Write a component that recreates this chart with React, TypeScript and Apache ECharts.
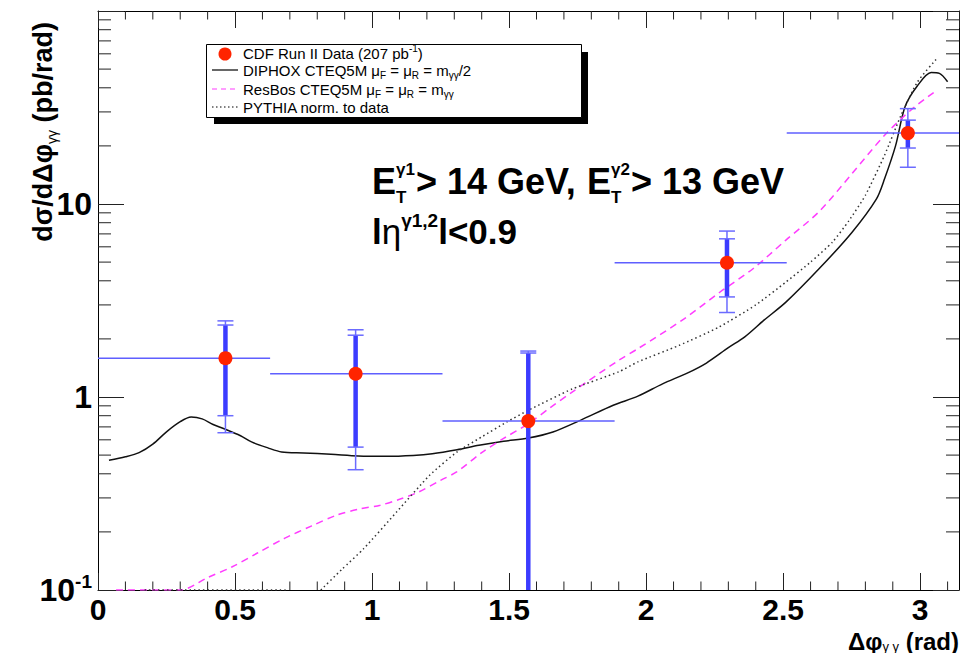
import React, { useEffect, useRef } from 'react';
import * as echarts from 'echarts';

// ---------------- data ----------------
const binEdges = [0, 0.628, 1.257, 1.885, 2.513, 3.1416];
const dataX = [0.465, 0.94, 1.57, 2.295, 2.955];
const dataY = [1.59, 1.32, 0.75, 4.96, 23.3];
const statLow = [0.8, 0.55, 0.05, 3.3, 19.5];
const statHigh = [2.36, 2.09, 1.69, 6.6, 27.2];
const totLow = [0.653, 0.42, 0.04, 2.74, 15.5];
const totHigh = [2.48, 2.23, 1.73, 7.24, 31.2];

const diphoxX = [0.04, 0.1, 0.15, 0.2, 0.25, 0.3, 0.34, 0.38, 0.42, 0.46, 0.52, 0.56, 0.62, 0.67, 0.75, 0.85, 0.95, 1.05, 1.15, 1.22, 1.31, 1.39, 1.48, 1.57, 1.66, 1.76, 1.88, 1.97, 2.06, 2.15, 2.22, 2.3, 2.36, 2.43, 2.51, 2.63, 2.75, 2.84, 2.87, 2.91, 2.945, 2.99, 3.04, 3.07, 3.1];
const diphoxY = [0.47, 0.49, 0.515, 0.57, 0.66, 0.745, 0.787, 0.77, 0.72, 0.685, 0.63, 0.585, 0.545, 0.519, 0.513, 0.505, 0.495, 0.493, 0.498, 0.508, 0.533, 0.562, 0.59, 0.613, 0.659, 0.757, 0.906, 1.01, 1.17, 1.33, 1.5, 1.8, 2.05, 2.5, 3.1, 4.6, 7.1, 10.6, 13.5, 20, 32, 41, 48, 47.5, 43];

const resbosX = [0.066, 0.3, 0.4, 0.49, 0.58, 0.68, 0.78, 0.87, 0.95, 1.03, 1.1, 1.17, 1.25, 1.31, 1.4, 1.48, 1.57, 1.65, 1.73, 1.9, 1.97, 2.14, 2.27, 2.39, 2.51, 2.63, 2.75, 2.87, 2.97, 3.06];
const resbosY = [0.1, 0.1, 0.116, 0.132, 0.155, 0.185, 0.215, 0.244, 0.262, 0.275, 0.295, 0.322, 0.37, 0.41, 0.515, 0.61, 0.727, 0.88, 1.06, 1.55, 1.78, 2.55, 3.5, 4.62, 6.5, 9.1, 14.3, 22.7, 31, 38.8];

const pythiaX = [0.17, 0.69, 0.75, 0.813, 0.89, 0.97, 1.09, 1.21, 1.31, 1.4, 1.49, 1.57, 1.73, 1.9, 1.97, 2.12, 2.265, 2.4, 2.51, 2.6, 2.68, 2.74, 2.8, 2.87, 2.93, 2.99, 3.06];
const pythiaY: (number | string)[] = [0.1, 0.1, '-', 0.1, 0.128, 0.164, 0.254, 0.393, 0.519, 0.621, 0.74, 0.853, 1.1, 1.35, 1.52, 1.85, 2.3, 3.0, 3.94, 5.0, 6.35, 8.2, 11.1, 17.9, 28.8, 42.9, 56.6];

const xTickValues = [0, 0.5, 1, 1.5, 2, 2.5, 3];
const xTickLabels = ['0', '0.5', '1', '1.5', '2', '2.5', '3'];
const yTickValues = [0.1, 1, 10];
const yTickLabels = ['10{sup|-1}', '1', '10'];

const legendLabels = [
  'CDF Run II Data (207 pb{sup|-1})',
  'DIPHOX CTEQ5M μ{sub|F} = μ{sub|R} = m{sub|γγ}/2',
  'ResBos CTEQ5M μ{sub|F} = μ{sub|R} = m{sub|γγ}',
  'PYTHIA norm. to data',
];

// minor tick positions (axis decoration)
const xMinorTicks: number[] = [];
for (let i = 1; i <= 31; i++) if (i % 5 !== 0) xMinorTicks.push(i / 10);
const yMinorTicks: number[] = [];
[0.1, 1, 10].forEach((d) => { for (let k = 2; k <= 9; k++) yMinorTicks.push(d * k); });

const FONT = "'Liberation Sans', Arial, Helvetica, sans-serif";
const LABEL_FONT = "'Liberation Sans Narrow', 'Liberation Sans', Arial, sans-serif";

const zip = (xs: number[], ys: any[]) => xs.map((x, i) => [x, ys[i]]);

export default function App() {
  const ref = useRef<HTMLDivElement>(null);
  useEffect(() => {
    if (!ref.current) return;
    const chart = echarts.init(ref.current, undefined, { renderer: 'svg' });

    const axisLine = { show: true, onZero: false, lineStyle: { color: '#000', width: 1 } };
    const xTick = { show: true, inside: true, length: 17, lineStyle: { color: '#222', width: 1 } };
    const yTick = { show: true, inside: true, length: 26, lineStyle: { color: '#222', width: 1 } };

    const errData = dataX.map((x, i) => [x, dataY[i], statLow[i], statHigh[i], totLow[i], totHigh[i], binEdges[i], binEdges[i + 1]]);

    const big = (text: string, x: number, y: number, size: number) => ({
      type: 'text', x, y, z: 10,
      style: { text, fontSize: size, fontWeight: 'bold', fontFamily: FONT, fill: '#000', verticalAlign: 'middle' },
    });

    const option: any = {
      animation: false,
      backgroundColor: '#fff',
      grid: { left: 98, right: 10, top: 11, bottom: 63, containLabel: false, outerBoundsMode: 'none' },
      xAxis: [
        {
          type: 'value', min: 0, max: Math.PI, interval: 0.5, position: 'bottom',
          axisLine, axisTick: xTick, splitLine: { show: false },
          axisLabel: {
            show: true, margin: 5, showMaxLabel: false, color: '#000', fontSize: 30, lineHeight: 28, fontWeight: 'bold', fontFamily: LABEL_FONT,
            formatter: (v: number) => {
              const k = xTickValues.findIndex((t) => Math.abs(t - v) < 1e-6);
              return k >= 0 ? xTickLabels[k] : '';
            },
          },
        },
        {
          type: 'value', min: 0, max: Math.PI, interval: 0.5, position: 'top',
          axisLine, axisTick: xTick, splitLine: { show: false }, axisLabel: { show: false },
        },
      ],
      yAxis: [
        {
          type: 'log', logBase: 10, min: 0.1, max: 100, position: 'left',
          axisLine, axisTick: yTick, splitLine: { show: false },
          axisLabel: {
            show: true, margin: 6, color: '#000', fontSize: 32, fontWeight: 'bold', fontFamily: LABEL_FONT, lineHeight: 36,
            formatter: (v: number) => {
              const k = yTickValues.findIndex((t) => Math.abs(t - v) / t < 1e-3);
              return k >= 0 ? yTickLabels[k] : '';
            },
            rich: {
              sup: { fontSize: 19, fontWeight: 'bold', fontFamily: LABEL_FONT, color: '#000', verticalAlign: 'top', lineHeight: 22 },
            },
          },
        },
        {
          type: 'log', logBase: 10, min: 0.1, max: 100, position: 'right',
          axisLine, axisTick: yTick, splitLine: { show: false }, axisLabel: { show: false },
        },
      ],
      series: [
        {
          type: 'custom', silent: true, xAxisIndex: 0, yAxisIndex: 0,
          data: yMinorTicks.map((v) => [1, v]),
          renderItem: (params: any, api: any) => {
            const cs = params.coordSys;
            const y = api.coord([api.value(0), api.value(1)])[1];
            const st = { stroke: '#222', lineWidth: 1 };
            return {
              type: 'group', children: [
                { type: 'line', shape: { x1: cs.x, y1: y, x2: cs.x + 13, y2: y }, style: st },
                { type: 'line', shape: { x1: cs.x + cs.width - 13, y1: y, x2: cs.x + cs.width, y2: y }, style: st },
              ],
            };
          },
        },
        {
          type: 'custom', silent: true, xAxisIndex: 0, yAxisIndex: 0,
          data: xMinorTicks.map((v) => [v, 1]),
          renderItem: (params: any, api: any) => {
            const cs = params.coordSys;
            const x = api.coord([api.value(0), api.value(1)])[0];
            const st = { stroke: '#222', lineWidth: 1 };
            return {
              type: 'group', children: [
                { type: 'line', shape: { x1: x, y1: cs.y + cs.height, x2: x, y2: cs.y + cs.height - 8.5 }, style: st },
                { type: 'line', shape: { x1: x, y1: cs.y, x2: x, y2: cs.y + 8.5 }, style: st },
              ],
            };
          },
        },
        {
          name: 'DIPHOX', type: 'line', data: zip(diphoxX, diphoxY), smooth: 0.3, showSymbol: false, symbol: 'none',
          lineStyle: { color: '#111', width: 1.5 }, z: 3,
        },
        {
          name: 'ResBos', type: 'line', data: zip(resbosX, resbosY), smooth: 0.3, showSymbol: false, symbol: 'none',
          lineStyle: { color: '#ff3dff', width: 1.5, type: [7, 5] }, z: 3,
        },
        {
          name: 'PYTHIA', type: 'line', data: zip(pythiaX, pythiaY), smooth: 0.2, showSymbol: false, symbol: 'none', connectNulls: false,
          lineStyle: { color: '#333', width: 1.5, type: [1.5, 3] }, z: 3,
        },
        {
          name: 'errors', type: 'custom', silent: true, data: errData, z: 4,
          encode: { x: 0, y: 1 },
          renderItem: (params: any, api: any) => {
            const cs = params.coordSys;
            const top = cs.y, bot = cs.y + cs.height;
            const xv = api.value(0);
            const c = api.coord([xv, api.value(1)]);
            const yOf = (v: number) => api.coord([xv, v])[1];
            const cl = (y: number) => Math.max(top, Math.min(bot, y));
            const x = c[0], y = c[1];
            const xb0 = api.coord([api.value(6), api.value(1)])[0];
            const xb1 = api.coord([api.value(7), api.value(1)])[0];
            const sLo = yOf(api.value(2)), sHi = yOf(api.value(3));
            const tLo = yOf(api.value(4)), tHi = yOf(api.value(5));
            const thin = { stroke: '#6b6bff', lineWidth: 1.5 };
            const bin = { stroke: '#5f5fff', lineWidth: 1.5 };
            const thick = { stroke: '#3c3cff', lineWidth: 4.5 };
            const kids: any[] = [
              { type: 'line', shape: { x1: xb0, y1: y, x2: xb1, y2: y }, style: bin },
              { type: 'line', shape: { x1: x, y1: cl(tLo), x2: x, y2: cl(tHi) }, style: thin },
              { type: 'line', shape: { x1: x, y1: cl(sLo), x2: x, y2: cl(sHi) }, style: thick },
            ];
            [tLo, tHi, sLo, sHi].forEach((yy) => {
              if (yy > top && yy < bot) kids.push({ type: 'line', shape: { x1: x - 8, y1: yy, x2: x + 8, y2: yy }, style: thin });
            });
            return { type: 'group', children: kids };
          },
        },
        {
          name: 'CDF', type: 'scatter', data: zip(dataX, dataY), symbol: 'circle', symbolSize: 14, z: 5,
          itemStyle: { color: '#ff2400', opacity: 1 },
        },
      ],
      graphic: [
        // y axis title
        {
          type: 'text', x: 43, y: 22, rotation: Math.PI / 2, z: 10,
          style: {
            text: 'dσ/dΔφ{sub|γγ} (pb/rad)', align: 'right', verticalAlign: 'middle', fill: '#000',
            fontSize: 27, fontWeight: 'bold', fontFamily: FONT, lineHeight: 32,
            rich: { sub: { fontSize: 14, fontWeight: 'normal', fontFamily: FONT, fill: '#000', verticalAlign: 'bottom', lineHeight: 15 } },
          },
        },
        // x axis title
        {
          type: 'text', x: 959, y: 641, z: 10,
          style: {
            text: 'Δφ{sub|γ γ} (rad)', align: 'right', verticalAlign: 'middle', fill: '#000',
            fontSize: 24, fontWeight: 'bold', fontFamily: LABEL_FONT, lineHeight: 24,
            rich: { sub: { fontSize: 13, fontWeight: 'normal', fontFamily: FONT, fill: '#000', verticalAlign: 'bottom', lineHeight: 11 } },
          },
        },
        // annotation line 1
        big('E', 372, 181, 36),
        big('T', 396, 197, 17),
        big('γ1', 396, 169, 17),
        big('> 14 GeV,', 416, 181, 36),
        big('E', 587, 181, 36),
        big('T', 611, 197, 17),
        big('γ2', 611, 169, 17),
        big('> 13 GeV', 631, 181, 36),
        // annotation line 2
        {
          type: 'text', x: 372, y: 231, z: 10,
          style: {
            text: 'l{g|η}{sup|γ1,2}l<0.9', fontSize: 35, fontWeight: 'bold', fontFamily: FONT, fill: '#000', verticalAlign: 'middle', lineHeight: 40,
            rich: {
              g: { fontSize: 35, fontWeight: 'normal', fontFamily: FONT, fill: '#000', lineHeight: 40 },
              sup: { fontSize: 19, fontWeight: 'bold', fontFamily: FONT, fill: '#000', verticalAlign: 'top', lineHeight: 28 },
            },
          },
        },
        // legend
        { type: 'rect', z: 20, shape: { x: 214, y: 52, width: 374, height: 72 }, style: { fill: '#000' } },
        { type: 'rect', z: 21, shape: { x: 206.5, y: 44.5, width: 375, height: 73 }, style: { fill: '#fff', stroke: '#000', lineWidth: 1 } },
        { type: 'circle', z: 22, shape: { cx: 225, cy: 54, r: 6.5 }, style: { fill: '#ff2400' } },
        { type: 'line', z: 22, shape: { x1: 212, y1: 70, x2: 238, y2: 70 }, style: { stroke: '#000', lineWidth: 1.2 } },
        { type: 'line', z: 22, shape: { x1: 212, y1: 89, x2: 238, y2: 89 }, style: { stroke: '#ff3dff', lineWidth: 1.2, lineDash: [5, 4] } },
        { type: 'line', z: 22, shape: { x1: 212, y1: 107, x2: 238, y2: 107 }, style: { stroke: '#000', lineWidth: 1.2, lineDash: [1.5, 2.5] } },
        ...legendLabels.map((t, i) => ({
          type: 'text', z: 22, x: 243, y: [53, 70, 89, 107][i],
          style: {
            text: t, fontSize: 15, fontFamily: FONT, fill: '#000', verticalAlign: 'middle', lineHeight: 20,
            rich: {
              sub: { fontSize: 10, fontFamily: FONT, fill: '#000', verticalAlign: 'bottom', lineHeight: 11 },
              sup: { fontSize: 10, fontFamily: FONT, fill: '#000', verticalAlign: 'top', lineHeight: 10 },
            },
          },
        })),
      ],
    };
    chart.setOption(option);
    return () => chart.dispose();
  }, []);
  return <div ref={ref} style={{ position: 'fixed', left: 0, top: 0, width: 969, height: 653, background: '#fff' }} />;
}
